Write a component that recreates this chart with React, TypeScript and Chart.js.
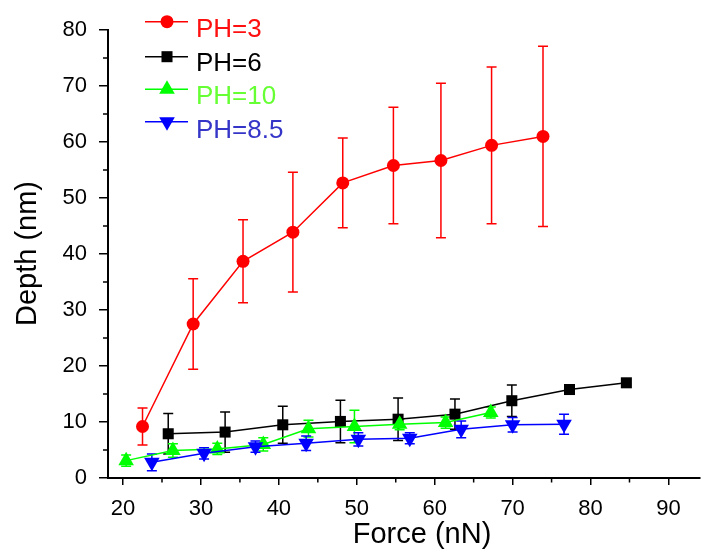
import React, { useEffect, useRef } from "react";
import { Chart, registerables } from "chart.js";
import { drawPoint } from "chart.js/helpers";

Chart.register(...registerables);

// ---- data ----
const seriesNames = ["PH=3", "PH=6", "PH=10", "PH=8.5"];

const ph3Force = [22.5, 29.0, 35.4, 41.8, 48.2, 54.7, 60.8, 67.3, 73.9];
const ph3Depth = [9.2, 27.5, 38.7, 43.9, 52.7, 55.8, 56.7, 59.4, 61.0];
const ph3Err = [3.3, 8.1, 7.4, 10.7, 8.0, 10.4, 13.8, 14.0, 16.1];

const ph6Force = [25.8, 33.1, 40.5, 47.9, 55.3, 62.6, 69.9, 77.3, 84.6];
const ph6Depth = [7.9, 8.2, 9.5, 10.1, 10.5, 11.4, 13.8, 15.8, 17.0];
const ph6Err = [3.6, 3.6, 3.3, 3.8, 3.8, 2.7, 2.8, 0, 0];

const ph10Force = [20.4, 26.4, 32.1, 38.0, 43.8, 49.7, 55.5, 61.4, 67.2];
const ph10Depth = [3.1, 4.9, 5.2, 6.0, 8.8, 9.2, 9.6, 9.9, 11.7];
const ph10Err = [1.0, 1.2, 1.0, 1.2, 1.5, 2.9, 1.0, 1.0, 1.0];

const ph85Force = [23.7, 30.4, 37.0, 43.5, 50.2, 56.8, 63.4, 70.0, 76.6];
const ph85Depth = [2.8, 4.4, 5.6, 6.2, 6.9, 7.1, 8.7, 9.5, 9.6];
const ph85Err = [1.5, 1.0, 1.0, 1.3, 1.2, 1.0, 1.5, 1.3, 1.8];

const xTicks = [20, 30, 40, 50, 60, 70, 80, 90];
const xMinorTicks = [25, 35, 45, 55, 65, 75, 85];
const yTicks = [0, 10, 20, 30, 40, 50, 60, 70, 80];
const yMinorTicks = [5, 15, 25, 35, 45, 55, 65, 75];

const xTitle = "Force (nN)";
const yTitle = "Depth (nm)";

// ---- styles ----
const FONT = "'Liberation Sans', Arial, Helvetica, sans-serif";
const lineColors = ["#ff0000", "#000000", "#00ff00", "#0000ff"];
const textColors = ["#ff1010", "#000000", "#66ff33", "#3535c8"];
const pointStyles = ["circle", "rect", "triangle", "triangle"];
const pointRadii = [6.5, 7.8, 9, 9];
const pointRotations = [0, 0, 0, 180];

const allForce = [ph3Force, ph6Force, ph10Force, ph85Force];
const allDepth = [ph3Depth, ph6Depth, ph10Depth, ph85Depth];
const allErr = [ph3Err, ph6Err, ph10Err, ph85Err];

const errorBarPlugin = {
  id: "errorBars",
  beforeDatasetsDraw(chart: any) {
    const { ctx, scales } = chart;
    const xs = scales.x;
    const ys = scales.y;
    chart.data.datasets.forEach((ds: any, di: number) => {
      const errs = allErr[di];
      ctx.save();
      ctx.strokeStyle = lineColors[di];
      ctx.lineWidth = 1.5;
      const cap = 5;
      ds.data.forEach((p: any, i: number) => {
        const e = errs[i];
        if (!e) return;
        const px = xs.getPixelForValue(p.x);
        const top = ys.getPixelForValue(p.y + e);
        const bot = ys.getPixelForValue(p.y - e);
        ctx.beginPath();
        ctx.moveTo(px, top);
        ctx.lineTo(px, bot);
        ctx.moveTo(px - cap, top);
        ctx.lineTo(px + cap, top);
        ctx.moveTo(px - cap, bot);
        ctx.lineTo(px + cap, bot);
        ctx.stroke();
      });
      ctx.restore();
    });
  },
};

const decorPlugin = {
  id: "decor",
  afterDraw(chart: any) {
    const { ctx, scales, chartArea } = chart;
    const xs = scales.x;
    const ys = scales.y;
    ctx.save();
    // minor ticks
    ctx.strokeStyle = "#000";
    ctx.lineWidth = 1.5;
    ctx.beginPath();
    xMinorTicks.forEach((v) => {
      const px = xs.getPixelForValue(v);
      ctx.moveTo(px, chartArea.bottom);
      ctx.lineTo(px, chartArea.bottom + 4.5);
    });
    yMinorTicks.forEach((v) => {
      const py = ys.getPixelForValue(v);
      ctx.moveTo(chartArea.left, py);
      ctx.lineTo(chartArea.left - 5, py);
    });
    ctx.stroke();

    // axis titles
    ctx.fillStyle = "#000";
    ctx.font = `29px ${FONT}`;
    ctx.textAlign = "center";
    ctx.textBaseline = "alphabetic";
    ctx.fillText(xTitle, 422, 543);
    ctx.save();
    ctx.translate(36, 253.5);
    ctx.rotate(-Math.PI / 2);
    ctx.fillText(yTitle, 0, 0);
    ctx.restore();

    // legend
    const lineY = [21.7, 56.7, 89.3, 121.7];
    const textY = [37, 70.5, 104, 138];
    seriesNames.forEach((name, i) => {
      ctx.strokeStyle = lineColors[i];
      ctx.lineWidth = 1.5;
      ctx.beginPath();
      ctx.moveTo(145, lineY[i]);
      ctx.lineTo(188, lineY[i]);
      ctx.stroke();
      ctx.fillStyle = lineColors[i];
      drawPoint(
        ctx,
        {
          pointStyle: pointStyles[i],
          radius: pointRadii[i],
          rotation: pointRotations[i],
          borderWidth: 0,
        } as any,
        167,
        lineY[i]
      );
      ctx.fillStyle = textColors[i];
      ctx.font = `26px ${FONT}`;
      ctx.textAlign = "left";
      ctx.textBaseline = "alphabetic";
      ctx.fillText(name, 196, textY[i]);
    });
    ctx.restore();
  },
};

export default function App() {
  const canvasRef = useRef<HTMLCanvasElement | null>(null);

  useEffect(() => {
    if (!canvasRef.current) return;
    const datasets = seriesNames.map((name, i) => ({
      label: name,
      data: allForce[i].map((f, j) => ({ x: f, y: allDepth[i][j] })),
      showLine: true,
      borderColor: lineColors[i],
      backgroundColor: lineColors[i],
      borderWidth: 1.5,
      pointStyle: pointStyles[i] as any,
      pointRadius: pointRadii[i],
      pointRotation: pointRotations[i],
      pointBorderWidth: 0,
      pointBackgroundColor: lineColors[i],
      pointHoverRadius: pointRadii[i],
      order: 4 - i,
      clip: false as any,
    }));

    const chart = new Chart(canvasRef.current, {
      type: "scatter",
      data: { datasets },
      options: {
        animation: false,
        responsive: false,
        devicePixelRatio: 1,
        layout: { padding: { top: 30, right: 0, left: 0, bottom: 0 } },
        plugins: {
          legend: { display: false },
          tooltip: { enabled: false },
        },
        scales: {
          x: {
            type: "linear",
            min: 18.07,
            max: 94.05,
            afterBuildTicks: (s: any) => {
              s.ticks = xTicks.map((v) => ({ value: v }));
            },
            afterFit: (s: any) => {
              s.height = 78;
            },
            grid: {
              drawOnChartArea: false,
              drawTicks: true,
              tickLength: 7,
              color: "#000",
              lineWidth: 1.5,
            },
            border: { display: true, color: "#000", width: 2 },
            ticks: {
              color: "#000",
              font: { family: FONT, size: 22 },
              padding: 11,
              maxRotation: 0,
              autoSkip: false,
            },
          },
          y: {
            type: "linear",
            min: 0,
            max: 80,
            afterBuildTicks: (s: any) => {
              s.ticks = yTicks.map((v) => ({ value: v }));
            },
            afterFit: (s: any) => {
              s.width = 108;
            },
            grid: {
              drawOnChartArea: false,
              drawTicks: true,
              tickLength: 9,
              color: "#000",
              lineWidth: 1.5,
            },
            border: { display: true, color: "#000", width: 2 },
            ticks: {
              color: "#000",
              font: { family: FONT, size: 22 },
              padding: 12,
              autoSkip: false,
            },
          },
        },
      },
      plugins: [errorBarPlugin, decorPlugin],
    });
    return () => chart.destroy();
  }, []);

  return (
    <div style={{ position: "absolute", left: 0, top: 0, width: 709, height: 556, background: "#fff" }}>
      <canvas ref={canvasRef} width={709} height={556} style={{ display: "block" }} />
    </div>
  );
}
